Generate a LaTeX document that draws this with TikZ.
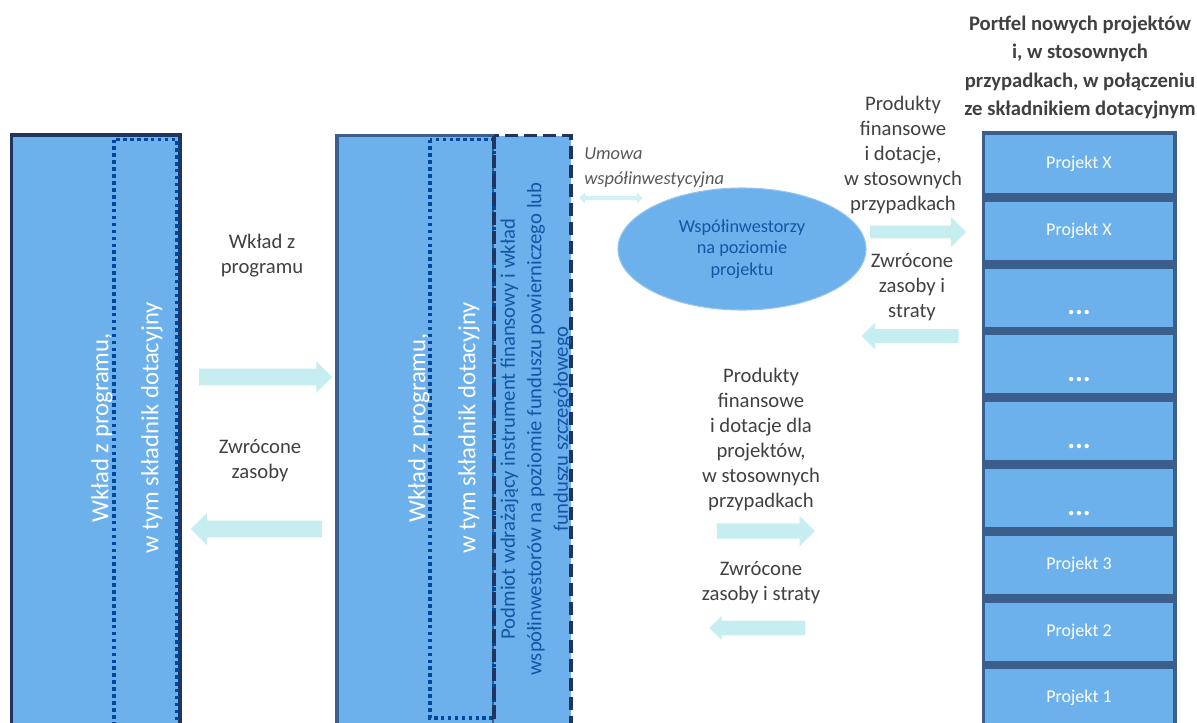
\documentclass[tikz,border=0pt]{standalone}
\usepackage{fontspec}
\setmainfont{Carlito}
\usetikzlibrary{positioning,shapes.geometric,shapes.arrows}

\definecolor{boxblue}{RGB}{108,176,236}
\definecolor{navyline}{RGB}{31,52,94}
\definecolor{slateline}{RGB}{60,94,140}
\definecolor{dotblue}{RGB}{0,72,158}
\definecolor{flowcyan}{RGB}{198,238,241}
\definecolor{umowacyan}{RGB}{212,242,246}
\definecolor{txtgray}{RGB}{64,64,64}
\definecolor{umowagray}{RGB}{89,89,89}
\definecolor{deepblue}{RGB}{20,86,164}
\definecolor{ellline}{RGB}{150,196,238}

\tikzset{
  flowtext/.style={text=txtgray, align=center, inner sep=0pt,
    font=\fontsize{15.5}{18.75}\selectfont},
  flowarrow/.style={shape=single arrow, fill=flowcyan, inner xsep=0pt,
    minimum width=0pt, single arrow head extend=#1},
  coltext/.style={rotate=90, text=white, align=center, inner sep=0pt,
    font=\fontsize{18.5}{37.5}\selectfont},
  projbox/.style={fill=boxblue, text=white, inner sep=0pt,
    minimum width=141pt, minimum height=43.5pt,
    text height=9.5pt, text depth=2.7pt,
    font=\fontsize{13.5}{16}\selectfont},
  dotbox/.style={projbox, text height=25.5pt, text depth=0pt,
    font=\bfseries\fontsize{22}{22}\selectfont},
  dottedcol/.style={draw=dotblue, line width=2.7pt, dash pattern=on 2.7pt off 2.5pt},
  dashedcol/.style={draw=navyline, line width=2.6pt, dash pattern=on 9.75pt off 4.5pt},
}

\begin{document}
\begin{tikzpicture}[x=0.75pt,y=-0.75pt]
\useasboundingbox (0,0) rectangle (1197,722);
\clip (0,0) rectangle (1197,722);

% left column
\filldraw[fill=boxblue, draw=navyline, line width=2.6pt] (11.5,135) rectangle (180,740);
\draw[dottedcol] (114,139.5) rectangle (177,745);
\node[coltext] (programL) at (127,428) {Wkład z programu,\\w tym składnik dotacyjny};

% middle column
\filldraw[fill=boxblue, draw=slateline, line width=2.4pt] (337,135.5) rectangle (494,740);
\fill[boxblue] (494,135.5) rectangle (571,740);
\draw[dottedcol] (430,139.5) rectangle (494,718);
\draw[dashedcol] (494,135.5) rectangle (571,745);
\node[coltext] (programM) at (444,428) {Wkład z programu,\\w tym składnik dotacyjny};
\node[rotate=90, text=deepblue, align=center, inner sep=0pt,
  font=\fontsize{15.5}{19.9}\selectfont] (podmiot) at (536,429)
  {Podmiot wdrażający instrument finansowy i wkład\\współinwestorów na poziomie funduszu powierniczego lub\\funduszu szczegółowego};

% flows between the columns
\node[flowtext] (wkladtxt) at (262,255.5) {Wkład z\\programu};
\node[flowarrow=5.6pt, inner ysep=6pt, minimum height=99.75pt] (wkladarr) at (261.5,377) {};
\node[flowtext] (zwrotLtxt) at (260,461) {Zwrócone\\zasoby};
\node[flowarrow=6pt, inner ysep=6pt, minimum height=98.25pt, shape border rotate=180] (zwrotLarr) at (260.5,529) {};

% co-investors
\node[anchor=west, text=umowagray, align=left, inner sep=0pt,
  font=\itshape\fontsize{13.8}{18.5}\selectfont] (umowa) at (584,167.5) {Umowa\\współinwestycyjna};
\node[shape=double arrow, fill=umowacyan, draw=flowcyan, line width=0.4pt,
  inner xsep=0pt, inner ysep=1.1pt, minimum width=0pt, double arrow head extend=2.2pt,
  minimum height=46.5pt] (umowaarr) at (611,198) {};
\node[ellipse, fill=boxblue, draw=ellline, line width=0.8pt, inner sep=0pt,
  minimum width=186pt, minimum height=91.5pt, text=deepblue, align=center,
  font=\fontsize{13.7}{16.3}\selectfont] (wspol) at (742,249) {Współinwestorzy\\na poziomie\\projektu};

\node[flowtext] (produktyR) at (903,155) {Produkty\\finansowe\\i dotacje,\\w stosownych\\przypadkach};
\node[flowarrow=6.75pt, inner ysep=4.5pt, minimum height=72pt] (produktyRarr) at (915,232) {};
\node[flowtext] (zwrotRtxt) at (912,287) {Zwrócone\\zasoby i\\straty};
\node[flowarrow=4.9pt, inner ysep=4.9pt, minimum height=72.75pt, shape border rotate=180] (zwrotRarr) at (913.5,336) {};

\node[flowtext] (produktyM) at (761,439.5) {Produkty\\finansowe\\i dotacje dla\\projektów,\\w stosownych\\przypadkach};
\node[flowarrow=5.6pt, inner ysep=5.6pt, minimum height=73.5pt] (produktyMarr) at (762,531) {};
\node[flowtext] (zwrotMtxt) at (761,582.5) {Zwrócone\\zasoby i straty};
\node[flowarrow=3.75pt, inner ysep=5.25pt, minimum height=72pt, shape border rotate=180] (zwrotMarr) at (761,628) {};

% portfolio
\node[text=txtgray, align=center, inner sep=0pt,
  font=\bfseries\fontsize{15.5}{21.4}\selectfont] (portfeltitle) at (1080,67.5)
  {Portfel nowych projektów\\i, w stosownych\\przypadkach, w połączeniu\\ze składnikiem dotacyjnym};
\fill[slateline] (982,131) rectangle (1177,740);
\node[projbox] (p1) at (1079,164) {Projekt X};
\node[projbox, below=6.2pt of p1] (p2) {Projekt X};
\node[dotbox, below=6.2pt of p2] (p3) {...};
\node[dotbox, below=6.2pt of p3] (p4) {...};
\node[dotbox, below=6.2pt of p4] (p5) {...};
\node[dotbox, below=6.2pt of p5] (p6) {...};
\node[projbox, below=6.2pt of p6] (p7) {Projekt 3};
\node[projbox, below=6.2pt of p7] (p8) {Projekt 2};
\node[projbox, below=6.2pt of p8] (p9) {Projekt 1};

\end{tikzpicture}
\end{document}
